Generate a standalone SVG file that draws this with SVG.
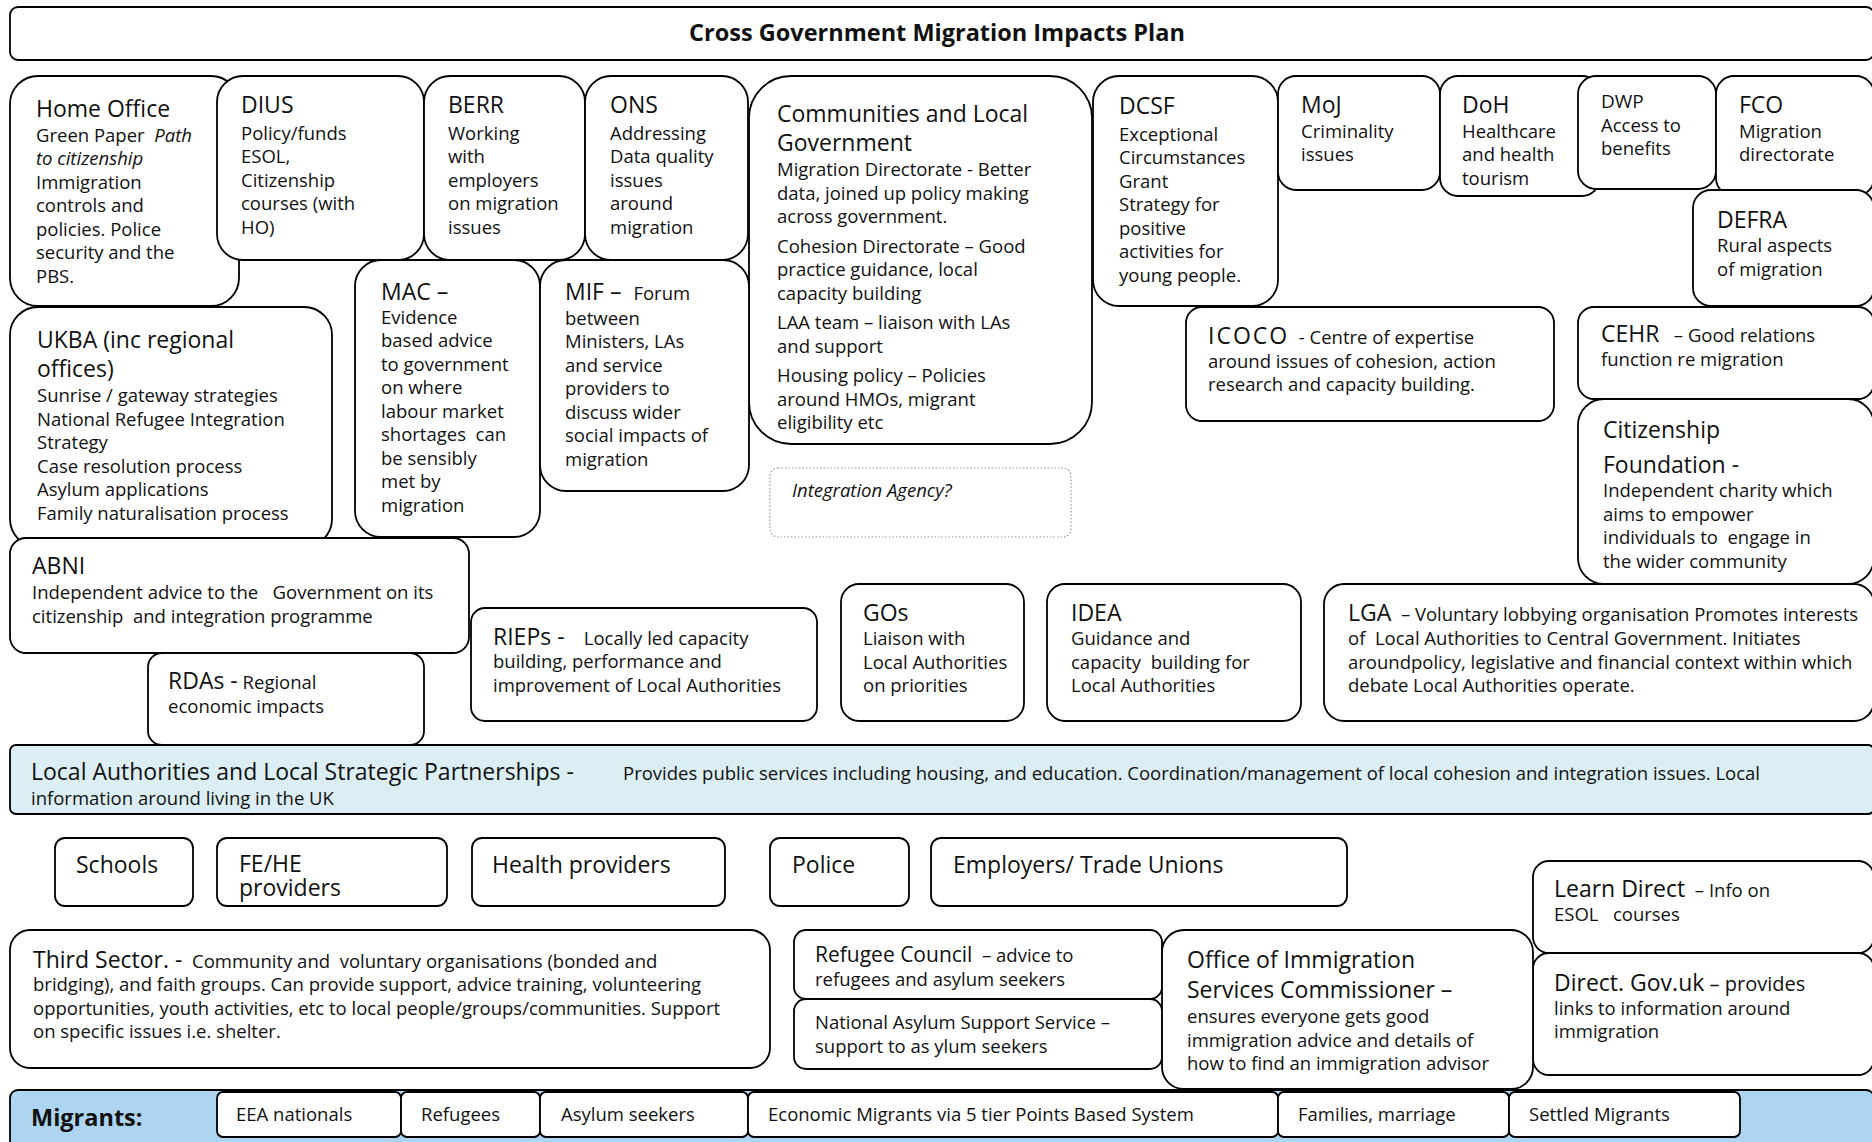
<svg xmlns="http://www.w3.org/2000/svg" width="1872" height="1142" viewBox="0 0 1872 1142">
<style>
text{font-family:"Open Sans","Noto Sans","DejaVu Sans",sans-serif;fill:#111;white-space:pre;}
.box{fill:#fff;stroke:#000;stroke-width:1.8;}
.h{font-size:23px;}
.b{font-size:18.5px;}
.i{font-style:italic;}
.bold{font-weight:bold;font-size:23.5px;}
.la{fill:#DBEEF4;stroke:#000;stroke-width:1.8;}
.mig{fill:#ADD4F0;stroke:#000;stroke-width:1.8;}
.dot{fill:#fff;stroke:#999;stroke-width:1.2;stroke-dasharray:1.5 2;}
</style>
<rect width="1872" height="1142" fill="#fff"/>
<g id="title"><rect class="box" x="10" y="7" width="1864" height="53" rx="8"/><text class="bold" x="937" y="41" text-anchor="middle">Cross Government Migration Impacts Plan</text></g>
<g id="home-office"><rect class="box" x="10" y="76" width="229" height="230" rx="28"/><text class="h" x="36" y="117">Home Office</text><text class="b" x="36" y="141.5" xml:space="preserve">Green Paper  <tspan class="i">Path</tspan></text><text class="b i" x="36" y="165">to citizenship</text><text class="b" x="36" y="188.5">Immigration</text><text class="b" x="36" y="212">controls and</text><text class="b" x="36" y="235.5">policies. Police</text><text class="b" x="36" y="259">security and the</text><text class="b" x="36" y="282.5">PBS.</text></g>
<g id="dius"><rect class="box" x="217" y="76" width="207" height="184" rx="26"/><text class="h" x="241" y="113">DIUS</text><text class="b" x="241" y="139.5">Policy/funds</text><text class="b" x="241" y="163">ESOL,</text><text class="b" x="241" y="186.5">Citizenship</text><text class="b" x="241" y="210">courses (with</text><text class="b" x="241" y="233.5">HO)</text></g>
<g id="berr"><rect class="box" x="424" y="76" width="161" height="184" rx="26"/><text class="h" x="448" y="113">BERR</text><text class="b" x="448" y="139.5">Working</text><text class="b" x="448" y="163">with</text><text class="b" x="448" y="186.5">employers</text><text class="b" x="448" y="210">on migration</text><text class="b" x="448" y="233.5">issues</text></g>
<g id="ons"><rect class="box" x="585" y="76" width="163" height="184" rx="26"/><text class="h" x="610" y="113">ONS</text><text class="b" x="610" y="139.5">Addressing</text><text class="b" x="610" y="163">Data quality</text><text class="b" x="610" y="186.5">issues</text><text class="b" x="610" y="210">around</text><text class="b" x="610" y="233.5">migration</text></g>
<g id="clg"><rect class="box" x="749" y="76" width="343" height="368" rx="42"/><text class="h" x="777" y="121.5">Communities and Local</text><text class="h" x="777" y="150.5">Government</text><text class="b" x="777" y="176">Migration Directorate - Better</text><text class="b" x="777" y="199.5">data, joined up policy making</text><text class="b" x="777" y="223">across government.</text><text class="b" x="777" y="252.5">Cohesion Directorate – Good</text><text class="b" x="777" y="276">practice guidance, local</text><text class="b" x="777" y="299.5">capacity building</text><text class="b" x="777" y="329">LAA team – liaison with LAs</text><text class="b" x="777" y="352.5">and support</text><text class="b" x="777" y="382">Housing policy – Policies</text><text class="b" x="777" y="405.5">around HMOs, migrant</text><text class="b" x="777" y="429">eligibility etc</text></g>
<g id="dcsf"><rect class="box" x="1093" y="76" width="185" height="230" rx="26"/><text class="h" x="1119" y="114">DCSF</text><text class="b" x="1119" y="140.5">Exceptional</text><text class="b" x="1119" y="164">Circumstances</text><text class="b" x="1119" y="187.5">Grant</text><text class="b" x="1119" y="211">Strategy for</text><text class="b" x="1119" y="234.5">positive</text><text class="b" x="1119" y="258">activities for</text><text class="b" x="1119" y="281.5">young people.</text></g>
<g id="moj"><rect class="box" x="1278" y="76" width="162" height="114" rx="18"/><text class="h" x="1301" y="113">MoJ</text><text class="b" x="1301" y="137.5">Criminality</text><text class="b" x="1301" y="161">issues</text></g>
<g id="doh"><rect class="box" x="1440" y="76" width="160" height="120" rx="18"/><text class="h" x="1462" y="113">DoH</text><text class="b" x="1462" y="137.5">Healthcare</text><text class="b" x="1462" y="161">and health</text><text class="b" x="1462" y="184.5">tourism</text></g>
<g id="dwp"><rect class="box" x="1578" y="76" width="138" height="113" rx="18"/><text class="b" style="font-size:19px" x="1601" y="108">DWP</text><text class="b" x="1601" y="131.5">Access to</text><text class="b" x="1601" y="155">benefits</text></g>
<g id="fco"><rect class="box" x="1716" y="76" width="158" height="120" rx="18"/><text class="h" x="1739" y="113">FCO</text><text class="b" x="1739" y="137.5">Migration</text><text class="b" x="1739" y="161">directorate</text></g>
<g id="defra"><rect class="box" x="1693" y="190" width="181" height="116" rx="18"/><text class="h" x="1717" y="228">DEFRA</text><text class="b" x="1717" y="252">Rural aspects</text><text class="b" x="1717" y="275.5">of migration</text></g>
<g id="ukba"><rect class="box" x="10" y="307" width="322" height="240" rx="28"/><text class="h" x="37" y="348">UKBA (inc regional</text><text class="h" x="37" y="377">offices)</text><text class="b" x="37" y="402">Sunrise / gateway strategies</text><text class="b" x="37" y="425.5">National Refugee Integration</text><text class="b" x="37" y="449">Strategy</text><text class="b" x="37" y="472.5">Case resolution process</text><text class="b" x="37" y="496">Asylum applications</text><text class="b" x="37" y="519.5">Family naturalisation process</text></g>
<g id="mac"><rect class="box" x="355" y="260" width="185" height="277" rx="26"/><text class="h" x="381" y="300">MAC –</text><text class="b" x="381" y="323.5">Evidence</text><text class="b" x="381" y="347">based advice</text><text class="b" x="381" y="370.5">to government</text><text class="b" x="381" y="394">on where</text><text class="b" x="381" y="417.5">labour market</text><text class="b" x="381" y="441" xml:space="preserve">shortages  can</text><text class="b" x="381" y="464.5">be sensibly</text><text class="b" x="381" y="488">met by</text><text class="b" x="381" y="511.5">migration</text></g>
<g id="mif"><rect class="box" x="540" y="260" width="209" height="231" rx="26"/><text class="h" x="565" y="300" xml:space="preserve">MIF –  <tspan class="b">Forum</tspan></text><text class="b" x="565" y="324.5">between</text><text class="b" x="565" y="348">Ministers, LAs</text><text class="b" x="565" y="371.5">and service</text><text class="b" x="565" y="395">providers to</text><text class="b" x="565" y="418.5">discuss wider</text><text class="b" x="565" y="442">social impacts of</text><text class="b" x="565" y="465.5">migration</text></g>
<g id="integration-agency"><rect class="dot" x="770" y="468" width="301" height="69" rx="8"/><text class="b i" x="792" y="497">Integration Agency?</text></g>
<g id="icoco"><rect class="box" x="1186" y="307" width="368" height="114" rx="16"/><text x="1208" y="344" xml:space="preserve"><tspan class="h" style="letter-spacing:2px">ICOCO</tspan><tspan class="b">  - Centre of expertise</tspan></text><text class="b" x="1208" y="368">around issues of cohesion, action</text><text class="b" x="1208" y="391">research and capacity building.</text></g>
<g id="cehr"><rect class="box" x="1578" y="307" width="296" height="92" rx="16"/><text x="1601" y="342" xml:space="preserve"><tspan class="h">CEHR</tspan><tspan class="b">   – Good relations</tspan></text><text class="b" x="1601" y="365.5">function re migration</text></g>
<g id="citizenship-foundation"><rect class="box" x="1578" y="399" width="296" height="185" rx="26"/><text class="h" x="1603" y="438">Citizenship</text><text class="h" x="1603" y="473">Foundation -</text><text class="b" x="1603" y="497">Independent charity which</text><text class="b" x="1603" y="520.5">aims to empower</text><text class="b" x="1603" y="544" xml:space="preserve">individuals to  engage in</text><text class="b" x="1603" y="567.5">the wider community</text></g>
<g id="abni"><rect class="box" x="10" y="538" width="459" height="115" rx="16"/><text class="h" x="32" y="574">ABNI</text><text class="b" x="32" y="599" xml:space="preserve">Independent advice to the   Government on its</text><text class="b" x="32" y="622.5" xml:space="preserve">citizenship  and integration programme</text></g>
<g id="rdas"><rect class="box" x="148" y="653" width="276" height="92" rx="14"/><text x="168" y="689" xml:space="preserve"><tspan class="h">RDAs -</tspan><tspan class="b"> Regional</tspan></text><text class="b" x="168" y="713">economic impacts</text></g>
<g id="rieps"><rect class="box" x="471" y="608" width="346" height="113" rx="14"/><text x="493" y="645" xml:space="preserve"><tspan class="h">RIEPs -</tspan><tspan class="b">    Locally led capacity</tspan></text><text class="b" x="493" y="668">building, performance and</text><text class="b" x="493" y="691.5">improvement of Local Authorities</text></g>
<g id="gos"><rect class="box" x="841" y="584" width="183" height="137" rx="18"/><text class="h" x="863" y="621">GOs</text><text class="b" x="863" y="645">Liaison with</text><text class="b" x="863" y="668.5">Local Authorities</text><text class="b" x="863" y="692">on priorities</text></g>
<g id="idea"><rect class="box" x="1047" y="584" width="254" height="137" rx="18"/><text class="h" x="1071" y="621">IDEA</text><text class="b" x="1071" y="645">Guidance and</text><text class="b" x="1071" y="668.5" xml:space="preserve">capacity  building for</text><text class="b" x="1071" y="692">Local Authorities</text></g>
<g id="lga"><rect class="box" x="1324" y="584" width="550" height="137" rx="20"/><text x="1348" y="621" xml:space="preserve"><tspan class="h">LGA</tspan><tspan class="b">  – Voluntary lobbying organisation Promotes interests</tspan></text><text class="b" x="1348" y="645" xml:space="preserve">of  Local Authorities to Central Government. Initiates</text><text class="b" x="1348" y="668.5">aroundpolicy, legislative and financial context within which</text><text class="b" x="1348" y="692">debate Local Authorities operate.</text></g>
<g id="local-authorities"><rect class="la" x="10" y="745" width="1864" height="69" rx="6"/><text class="h" x="31" y="780">Local Authorities and Local Strategic Partnerships -</text><text class="b" x="623" y="780">Provides public services including housing, and education. Coordination/management of local cohesion and integration issues. Local</text><text class="b" x="31" y="805">information around living in the UK</text></g>
<g id="schools"><rect class="box" x="55" y="838" width="138" height="68" rx="10"/><text class="h" x="76" y="872.5">Schools</text></g>
<g id="fe-he"><rect class="box" x="217" y="838" width="230" height="68" rx="10"/><text class="h" x="239" y="871.5">FE/HE</text><text class="h" x="239" y="896">providers</text></g>
<g id="health-providers"><rect class="box" x="472" y="838" width="253" height="68" rx="10"/><text class="h" x="492" y="872.5">Health providers</text></g>
<g id="police"><rect class="box" x="770" y="838" width="139" height="68" rx="10"/><text class="h" x="792" y="872.5">Police</text></g>
<g id="employers"><rect class="box" x="931" y="838" width="416" height="68" rx="10"/><text class="h" x="953" y="872.5">Employers/ Trade Unions</text></g>
<g id="learn-direct"><rect class="box" x="1533" y="861" width="341" height="92" rx="16"/><text x="1554" y="897" xml:space="preserve"><tspan class="h">Learn Direct</tspan><tspan class="b">  – Info on</tspan></text><text class="b" x="1554" y="920.5" xml:space="preserve">ESOL   courses</text></g>
<g id="direct-gov"><rect class="box" x="1533" y="953" width="341" height="122" rx="16"/><text x="1554" y="991" xml:space="preserve"><tspan class="h">Direct. Gov.uk</tspan><tspan class="b" style="font-size:20px"> – provides</tspan></text><text class="b" x="1554" y="1015">links to information around</text><text class="b" x="1554" y="1038">immigration</text></g>
<g id="third-sector"><rect class="box" x="10" y="930" width="760" height="138" rx="20"/><text x="33" y="968" xml:space="preserve"><tspan class="h">Third Sector. -</tspan><tspan class="b">  Community and  voluntary organisations (bonded and</tspan></text><text class="b" x="33" y="991">bridging), and faith groups. Can provide support, advice training, volunteering</text><text class="b" x="33" y="1014.5">opportunities, youth activities, etc to local people/groups/communities. Support</text><text class="b" x="33" y="1038">on specific issues i.e. shelter.</text></g>
<g id="refugee-council"><rect class="box" x="794" y="930" width="368" height="69" rx="12"/><text x="815" y="962" xml:space="preserve"><tspan class="h" style="font-size:21px">Refugee Council</tspan><tspan class="b">  – advice to</tspan></text><text class="b" x="815" y="986">refugees and asylum seekers</text></g>
<g id="nass"><rect class="box" x="794" y="999" width="368" height="70" rx="12"/><text class="b" x="815" y="1029">National Asylum Support Service –</text><text class="b" x="815" y="1053">support to as ylum seekers</text></g>
<g id="oisc"><rect class="box" x="1162" y="930" width="371" height="159" rx="22"/><text class="h" x="1187" y="968">Office of Immigration</text><text class="h" x="1187" y="998">Services Commissioner –</text><text class="b" x="1187" y="1023">ensures everyone gets good</text><text class="b" x="1187" y="1046.5">immigration advice and details of</text><text class="b" x="1187" y="1070">how to find an immigration advisor</text></g>
<g id="migrants"><rect class="mig" x="10" y="1090" width="1864" height="70" rx="8"/><text class="bold" x="31" y="1126">Migrants:</text></g>
<g id="eea-nationals"><rect class="box" x="217" y="1092" width="184" height="45" rx="6"/><text class="b" x="236" y="1121">EEA nationals</text></g>
<g id="refugees"><rect class="box" x="401" y="1092" width="139" height="45" rx="6"/><text class="b" x="421" y="1121">Refugees</text></g>
<g id="asylum-seekers"><rect class="box" x="540" y="1092" width="208" height="45" rx="6"/><text class="b" x="561" y="1121">Asylum seekers</text></g>
<g id="economic-migrants"><rect class="box" x="748" y="1092" width="530" height="45" rx="6"/><text class="b" x="768" y="1121">Economic Migrants via 5 tier Points Based System</text></g>
<g id="families"><rect class="box" x="1278" y="1092" width="231" height="45" rx="6"/><text class="b" x="1298" y="1121">Families, marriage</text></g>
<g id="settled-migrants"><rect class="box" x="1509" y="1092" width="231" height="45" rx="6"/><text class="b" x="1529" y="1121">Settled Migrants</text></g>
<g id="connectors"></g>
</svg>
